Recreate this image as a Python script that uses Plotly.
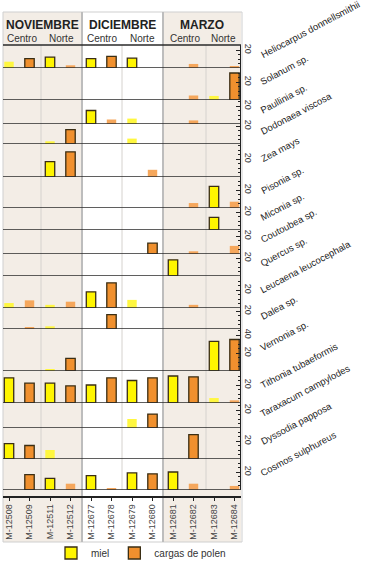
import plotly.graph_objects as go

# ---------------- data ----------------
samples = ["M-12508", "M-12509", "M-12511", "M-12512", "M-12677", "M-12678",
           "M-12679", "M-12680", "M-12681", "M-12682", "M-12683", "M-12684"]
sample_type = ["miel", "polen"] * 6
months = ["NOVIEMBRE", "DICIEMBRE", "MARZO"]
zones = ["Centro", "Norte", "Centro", "Norte", "Centro", "Norte"]
species = ["Heliocarpus donnellsmithii", "Solanum sp.", "Paullinia sp.", "Dodonaea viscosa",
           "Zea mays", "Pisonia sp.", "Miconia sp.", "Coutoubea sp.", "Quercus sp.",
           "Leucaena leucocephala", "Dalea sp.", "Vernonia sp.", "Tithonia tubaeformis",
           "Taraxacum campylodes", "Dyssodia papposa", "Cosmos sulphureus"]

heliocarpus = [7, 10.5, 12, 3, 10.5, 13, 11, 0, 0, 4.5, 0, 2]
solanum = [0, 0, 0, 0, 0, 0, 0, 0, 0, 5, 4.5, 30]
paullinia = [0, 0, 0, 0, 15, 5, 6, 0, 0, 4, 0, 0]
dodonaea = [0, 0, 3, 16, 0, 0, 6, 0, 0, 0, 0, 0]
zea = [0, 0, 17, 28, 0, 0, 0, 8, 0, 0, 0, 0]
pisonia = [0, 0, 0, 0, 0, 0, 0, 0, 0, 5.5, 24, 7]
miconia = [0, 0, 0, 0, 0, 0, 0, 0, 0, 0, 14, 0]
coutoubea = [0, 0, 0, 0, 0, 0, 0, 12, 0, 3, 0, 9]
quercus = [0, 0, 0, 0, 0, 0, 0, 0, 18, 0, 0, 0]
leucaena = [5.5, 8.5, 3.5, 7, 18, 28, 9, 0, 0, 3.5, 0, 0]
dalea = [0, 2, 3, 0, 0, 16, 0, 0, 0, 0, 0, 0]
vernonia = [0, 0, 2, 14, 0, 0, 0, 0, 0, 0, 33, 35]
tithonia = [28, 22, 22, 19, 20, 28, 25, 28, 30, 29, 5.5, 3]
taraxacum = [0, 0, 0, 0, 0, 0, 10, 15.5, 0, 0, 0, 0]
dyssodia = [17, 15, 10, 0, 0, 0, 0, 0, 0, 27, 0, 0]
cosmos = [0, 17, 13, 7, 16, 2, 19, 18, 20, 7, 0, 4.5]

values = [heliocarpus, solanum, paullinia, dodonaea, zea, pisonia, miconia, coutoubea,
          quercus, leucaena, dalea, vernonia, tithonia, taraxacum, dyssodia, cosmos]
axis_labels = [[20]] * 11 + [[20, 40]] + [[20]] * 4

# ---------------- layout geometry (pixels) ----------------
W, H = 365, 562
PL, PR, PT, PB = 3, 241, 12, 542          # framed panel
row_edges = [45, 68, 100, 124, 144, 177, 208, 230, 254, 276, 308, 329, 371, 403, 428, 459, 490]
PX_PER_UNIT = 0.9
X0_PX, STEP_PX = 9, 20.5
col_edges_px = [PL, 41, 82, 122, 163, 206, PR]
HEADER_LINE, XAXIS_PX, LEGEND_PX = 45, 497, 553


def fx(px):
    return px / W


def fy(py):
    return 1 - py / H


def xd(px):
    return (px - X0_PX) / STEP_PX


FONT = "Liberation Sans, Arial, sans-serif"
YEL, YEL_F = "#FFF500", "#FFF740"
ORA, ORA_F = "#F0902E", "#F5A75C"
OUT = "#3a2e14"

fig = go.Figure()
layout = {}

for r, (name, vals) in enumerate(zip(species, values), start=1):
    for kind, col, colf in (("miel", YEL, YEL_F), ("polen", ORA, ORA_F)):
        xs = [s for s, t in zip(samples, sample_type) if t == kind]
        ys = [v for v, t in zip(vals, sample_type) if t == kind]
        fig.add_trace(go.Bar(
            x=xs, y=ys, xaxis="x", yaxis=f"y{r}", width=0.46,
            name="miel" if kind == "miel" else "cargas de polen",
            legendgroup=kind, showlegend=(name == "Tithonia tubaeformis"),
            marker=dict(color=[col if v > 10 else colf for v in ys],
                        line=dict(color=OUT, width=[1.3 if v > 10 else 0 for v in ys])),
            hoverinfo="skip"))
    top, bot = row_edges[r - 1], row_edges[r]
    rng = (bot - top) / PX_PER_UNIT
    tv = [0] + axis_labels[r - 1]
    tt = [""] + [str(v) for v in axis_labels[r - 1]]
    common = dict(range=[0, rng], showgrid=False, zeroline=False, fixedrange=True,
                  showline=True, linecolor="#222", linewidth=1,
                  ticks="inside", ticklen=4, tickcolor="#222", tickwidth=1,
                  tickmode="array", tickvals=tv,
                  minor=dict(ticks="inside", ticklen=2, tickcolor="#222", dtick=5, tick0=0))
    layout[f"yaxis{r}"] = dict(common, domain=[fy(bot), fy(top)], anchor="free", position=fx(PR - 1),
                               side="right", ticktext=tt, tickangle=90,
                               tickfont=dict(size=9, color="#333", family=FONT))
    layout[f"yaxis{16 + r}"] = dict(common, overlaying=f"y{r}", anchor="free", position=fx(7),
                                    side="left", showticklabels=False)

shapes = []
# section backgrounds (Nov and Mar shaded)
for a, b in ((col_edges_px[0], col_edges_px[2]), (col_edges_px[4], col_edges_px[6])):
    shapes.append(dict(type="rect", xref="paper", yref="paper", x0=fx(a), x1=fx(b),
                       y0=fy(PB), y1=fy(PT), fillcolor="#F3EDE6", line=dict(width=0), layer="below"))
# panel border
shapes.append(dict(type="rect", xref="paper", yref="paper", x0=fx(PL), x1=fx(PR + 1),
                   y0=fy(PB), y1=fy(PT), line=dict(color="#CFCFCF", width=1), layer="below"))
# centro/norte separators
for px in (col_edges_px[1], col_edges_px[3], col_edges_px[5]):
    shapes.append(dict(type="line", xref="paper", yref="paper", x0=fx(px), x1=fx(px),
                       y0=fy(row_edges[-1]), y1=fy(HEADER_LINE), line=dict(color="#D5D2CE", width=1),
                       layer="below"))
# month separators
for px in (col_edges_px[2], col_edges_px[4]):
    shapes.append(dict(type="line", xref="paper", yref="paper", x0=fx(px), x1=fx(px),
                       y0=fy(PB), y1=fy(PT), line=dict(color="#BDBDBD", width=2), layer="below"))
# header bottom line and row baselines
shapes.append(dict(type="line", xref="paper", yref="paper", x0=fx(PL), x1=fx(PR),
                   y0=fy(HEADER_LINE), y1=fy(HEADER_LINE), line=dict(color="#2a2a2a", width=1.6)))
for r in range(1, 17):
    shapes.append(dict(type="line", xref="paper", yref=f"y{r}", x0=fx(PL), x1=fx(PR), y0=0, y1=0,
                       line=dict(color="#2a2a2a", width=1.6)))

annotations = []
for i, m in enumerate(months):
    cx = (col_edges_px[2 * i] + col_edges_px[2 * i + 2]) / 2
    annotations.append(dict(x=fx(cx), y=fy(24.5), xref="paper", yref="paper", text=f"<b>{m}</b>",
                            showarrow=False, xanchor="center", yanchor="middle",
                            font=dict(size=12, color="#222", family=FONT)))
for i, z in enumerate(zones):
    cx = (col_edges_px[i] + col_edges_px[i + 1]) / 2
    annotations.append(dict(x=fx(cx), y=fy(39), xref="paper", yref="paper", text=z,
                            showarrow=False, xanchor="center", yanchor="middle",
                            font=dict(size=10, color="#333", family=FONT)))
for r, name in enumerate(species, start=1):
    mid = (row_edges[r - 1] + row_edges[r]) / 2
    annotations.append(dict(x=fx(256), y=fy(mid + 6), xref="paper", yref="paper", text=name,
                            showarrow=False, textangle=-28, xanchor="left", yanchor="bottom",
                            font=dict(size=9.5, color="#222", family=FONT)))

fig.update_layout(
    width=W, height=H,
    margin=dict(l=0, r=0, t=0, b=0, autoexpand=False),
    paper_bgcolor="white", plot_bgcolor="rgba(0,0,0,0)",
    barmode="overlay", showlegend=True,
    xaxis=dict(domain=[fx(PL), fx(PR)], type="category", categoryorder="array", categoryarray=samples,
               range=[xd(PL), xd(PR)], anchor="free", position=fy(XAXIS_PX),
               showline=True, linecolor="#222", linewidth=1.5, ticks="outside", ticklen=3,
               tickcolor="#222", tickangle=-90, tickfont=dict(size=9, color="#444", family=FONT),
               showgrid=False, zeroline=False, fixedrange=True),
    legend=dict(orientation="h", x=fx(51), y=fy(LEGEND_PX), xanchor="left", yanchor="middle",
                font=dict(size=10, color="#333", family=FONT),
                bgcolor="rgba(0,0,0,0)", itemclick=False),
    shapes=shapes, annotations=annotations,
    **layout,
)

fig.write_html("out.html", config={"displayModeBar": False},
               post_script="document.body.style.margin='0px';")
